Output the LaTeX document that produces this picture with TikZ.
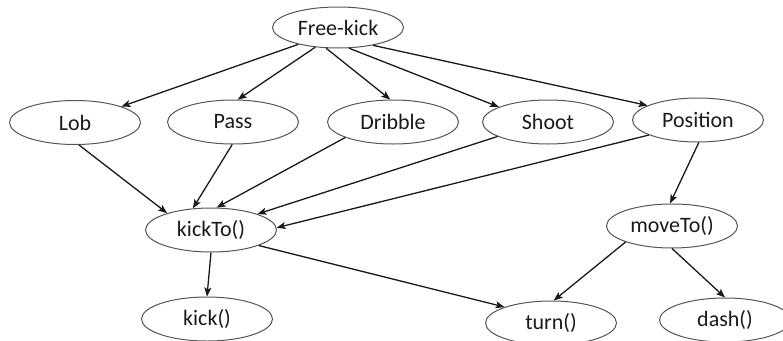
\documentclass[tikz,border=0pt]{standalone}
\usepackage{fontspec}
\setmainfont{Carlito}
\usetikzlibrary{shapes.geometric,arrows.meta}
\definecolor{edgegray}{HTML}{555555}
\definecolor{txt}{HTML}{1A1A1A}
\tikzset{
  task/.style={ellipse, draw=edgegray, line width=1pt, fill=white, text=txt,
    minimum width=131pt, minimum height=44pt, inner sep=0pt,
    font=\fontsize{22}{26}\selectfont},
  link/.style={line width=1.3pt, draw=black!90,
    -{Stealth[length=9pt,width=7pt,inset=2pt]}}
}
\begin{document}
\begin{tikzpicture}[x=1pt,y=-1pt]
\useasboundingbox (0,0) rectangle (783,340);
\clip (0,0) rectangle (783,340);
\node[task, minimum height=41pt] (fk) at (338,27.5) {Free-kick};
\node[task] (lob) at (75,122.5) {Lob};
\node[task] (pass) at (233,122) {Pass};
\node[task] (drib) at (393,122) {Dribble};
\node[task] (shoot) at (548,122) {Shoot};
\node[task] (pos) at (698,120) {Position};
\node[task] (kto) at (211,230) {kickTo()};
\node[task] (mto) at (672,226) {moveTo()};
\node[task] (kick) at (207,319) {kick()};
\node[task] (turn) at (551,323) {turn()};
\node[task] (dash) at (725,320) {dash()};

\draw[link] (fk.203) -- (lob.19);
\draw[link] (fk.221) -- (pass.78);
\draw[link] (fk.240) -- (drib.97);
\draw[link] (fk.298) -- (shoot.163);
\draw[link] (fk.333) -- (pos.164);

\draw[link] (lob.280) -- (kto.159);
\draw[link] (pass.268) -- (kto.130);
\draw[link] (drib.198) -- (kto.76);
\draw[link] (shoot.196) -- (kto.19);
\draw[link] (pos.197) -- (kto.2);
\draw[link] (pos.272) -- (mto.95);

\draw[link] (kto.270) -- (kick.90);
\draw[link] (kto.342) -- (turn.161);
\draw[link] (mto.199) -- (turn.83);
\draw[link] (mto.270) -- (dash.90);
\end{tikzpicture}
\end{document}
